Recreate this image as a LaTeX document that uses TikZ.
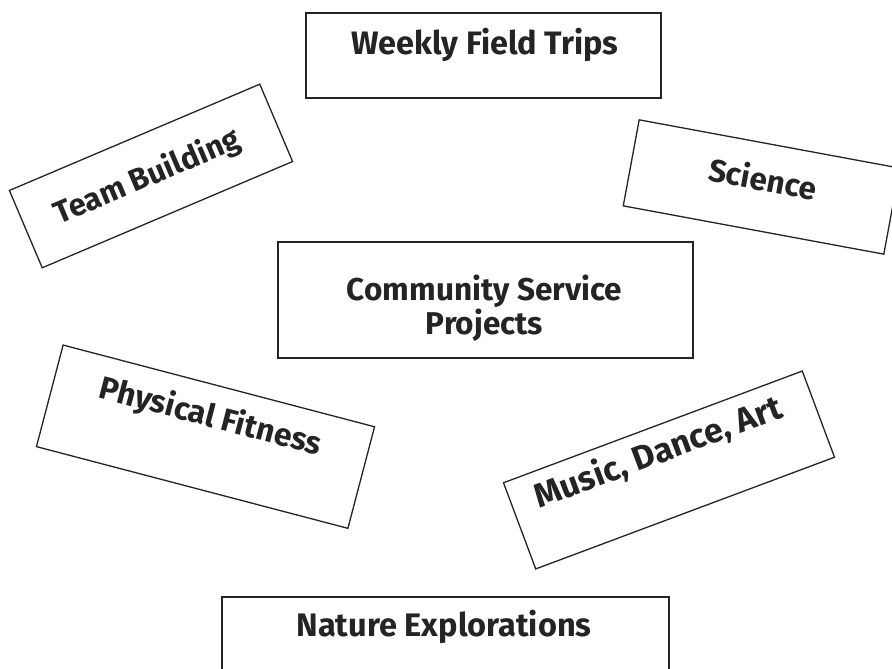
\documentclass[tikz,border=0pt]{standalone}
\usepackage{fontspec}
\setmainfont{Fira Sans}
\usepackage{graphicx}
\definecolor{ink}{HTML}{242424}
\newcommand\fitto[2]{\resizebox{#1}{!}{#2}}
\tikzset{
  card/.style={draw=ink, line width=1.3pt, fill=white, inner sep=0pt},
  cardtext/.style={text=ink, font=\bfseries, inner sep=0pt},
}
\begin{document}
\begin{tikzpicture}[x=1pt,y=1pt]
\useasboundingbox (0,0) rectangle (892,669);
\fill[white] (0,0) rectangle (892,669);

% Weekly Field Trips
\node[card, minimum width=355pt, minimum height=85pt] (weekly) at (483.5,613.5) {};
\node[cardtext, anchor=base] (weeklyt) at (485,614) {\fitto{267pt}{Weekly Field Trips}};

% Team Building
\begin{scope}[shift={(151,493)}, rotate=23, transform shape]
  \node[card, minimum width=272pt, minimum height=84pt] (team) at (0,0) {};
  \node[cardtext] (teamt) at (-4,0) {\fitto{199pt}{Team Building}};
\end{scope}

% Science
\begin{scope}[shift={(761.5,482)}, rotate=-10.5, transform shape]
  \node[card, minimum width=265pt, minimum height=87.5pt] (science) at (0,0) {};
  \node[cardtext] (sciencet) at (0,9) {\fitto{109pt}{Science}};
\end{scope}

% Community Service Projects
\node[card, minimum width=415pt, minimum height=116pt] (community) at (485.5,369) {};
\node[cardtext, align=center, font=\fontsize{20pt}{28pt}\selectfont\bfseries] (communityt) at (484.5,361)
  {\fitto{275pt}{Community Service}\\\fitto{117pt}{Projects}};

% Physical Fitness
\begin{scope}[shift={(205.5,232.3)}, rotate=-14.7, transform shape]
  \node[card, minimum width=322pt, minimum height=105pt] (fitness) at (0,0) {};
  \node[cardtext] (fitnesst) at (0,20) {\fitto{228pt}{Physical Fitness}};
\end{scope}

% Music, Dance, Art
\begin{scope}[shift={(669,199)}, rotate=20.5, transform shape]
  \node[card, minimum width=319pt, minimum height=92pt] (music) at (0,0) {};
  \node[cardtext] (musict) at (-4,20) {\fitto{261pt}{Music, Dance, Art}};
\end{scope}

% Nature Explorations
\node[card, minimum width=447pt, minimum height=100pt] (nature) at (445.5,22) {};
\node[cardtext, anchor=base] (naturet) at (444,32) {\fitto{295pt}{Nature Explorations}};
\end{tikzpicture}
\end{document}
